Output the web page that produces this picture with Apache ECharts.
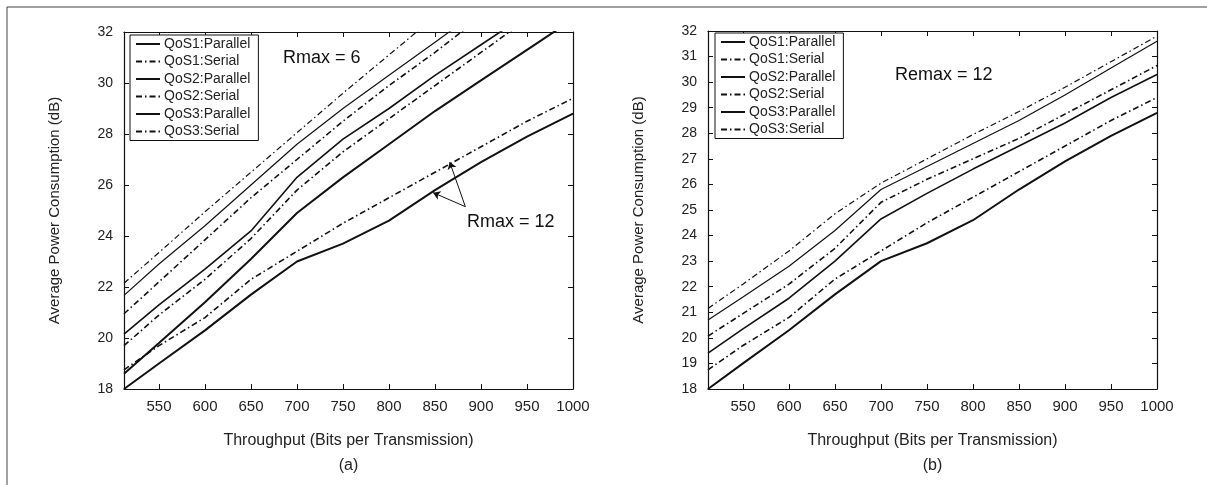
<!DOCTYPE html>
<html>
<head>
  <meta charset="utf-8">
  <title>Average Power Consumption</title>
  <script src="https://cdn.jsdelivr.net/npm/echarts@6/dist/echarts.min.js"></script>
  <style>
    html, body { margin: 0; padding: 0; background: #fff; }
    #chart { width: 1207px; height: 485px; }
  </style>
</head>
<body>
<div id="chart"></div>
<script>
  // throughput points (bits per transmission)
  var throughput = [512, 550, 600, 650, 700, 750, 800, 850, 900, 950, 1000];
  var xTicks = [550, 600, 650, 700, 750, 800, 850, 900, 950, 1000];

  // panel (a), Rmax = 6
  var a_qos1Par = [21.67, 22.9, 24.4, 26.0, 27.6, 29.0, 30.3, 31.6, 32.9, 34.2, 35.5];
  var a_qos1Ser = [22.15, 23.35, 24.95, 26.5, 28.05, 29.6, 31.1, 32.6, 34.1, 35.5, 37.0];
  var a_qos2Par = [20.15, 21.3, 22.7, 24.2, 26.3, 27.8, 29.0, 30.3, 31.5, 32.7, 33.9];
  var a_qos2Ser = [20.95, 22.2, 23.85, 25.5, 27.0, 28.5, 29.9, 31.2, 32.6, 34.0, 35.4];
  var a_qos3Par = [18.6, 19.8, 21.4, 23.1, 24.9, 26.3, 27.6, 28.9, 30.1, 31.3, 32.5];
  var a_qos3Ser = [19.7, 20.9, 22.3, 23.9, 25.8, 27.3, 28.6, 29.9, 31.2, 32.5, 33.8];

  // panel (b), Rmax = 12 (its QoS3 curves are also the Rmax = 12 pair in (a))
  var b_qos1Par = [20.7, 21.6, 22.8, 24.2, 25.8, 26.7, 27.6, 28.5, 29.5, 30.55, 31.6];
  var b_qos1Ser = [21.15, 22.1, 23.4, 24.85, 26.05, 27.0, 27.95, 28.85, 29.8, 30.8, 31.8];
  var b_qos2Par = [19.4, 20.35, 21.55, 23.0, 24.65, 25.65, 26.6, 27.5, 28.4, 29.4, 30.3];
  var b_qos2Ser = [20.07, 20.95, 22.1, 23.5, 25.3, 26.2, 27.0, 27.8, 28.75, 29.7, 30.65];
  var b_qos3Par = [18.0, 19.0, 20.3, 21.7, 23.0, 23.7, 24.6, 25.8, 26.9, 27.9, 28.8];
  var b_qos3Ser = [18.75, 19.7, 20.8, 22.3, 23.4, 24.5, 25.5, 26.5, 27.5, 28.5, 29.4];

  var legendNames = ['QoS1:Parallel', 'QoS1:Serial', 'QoS2:Parallel', 'QoS2:Serial', 'QoS3:Parallel', 'QoS3:Serial'];

  function pairs(vals) {
    return throughput.map(function (t, i) { return [t, vals[i]]; });
  }

  var FONT = 'Liberation Sans, Arial, sans-serif';
  var dashDot = [6, 3, 1.5, 3];

  var styles = {
    'QoS1:Parallel': { type: 'solid', width: 1.2 },
    'QoS1:Serial': { type: dashDot, width: 1.2 },
    'QoS2:Parallel': { type: 'solid', width: 1.6 },
    'QoS2:Serial': { type: dashDot, width: 1.6 },
    'QoS3:Parallel': { type: 'solid', width: 2 },
    'QoS3:Serial': { type: dashDot, width: 1.6 }
  };

  function line(name, vals, idx, extra) {
    var st = styles[name.split(' ')[0]];
    var s = {
      name: name,
      type: 'line',
      xAxisIndex: idx,
      yAxisIndex: idx,
      data: pairs(vals),
      showSymbol: false,
      symbol: 'none',
      color: '#111',
      animation: false,
      clip: true,
      lineStyle: { color: '#111', type: st.type, width: st.width }
    };
    if (extra) { for (var k in extra) s[k] = extra[k]; }
    return s;
  }

  function xAx(gi, tag) {
    return [{
      type: 'value', gridIndex: gi, min: 512, max: 1000,
      name: 'Throughput (Bits per Transmission)\n' + tag,
      nameLocation: 'middle', nameGap: 39,
      nameTextStyle: { fontFamily: FONT, fontSize: 16, color: '#222', lineHeight: 25 },
      axisLine: { lineStyle: { color: '#111', width: 1.2 } },
      axisTick: { inside: true, length: 5, customValues: xTicks, lineStyle: { color: '#111' } },
      axisLabel: {
        customValues: xTicks, fontFamily: FONT, fontSize: 15, color: '#222', margin: 10,
        formatter: function (v) { return String(v); }
      },
      splitLine: { show: false }
    }, {
      type: 'value', gridIndex: gi, position: 'top', min: 512, max: 1000,
      axisLine: { lineStyle: { color: '#111', width: 1.2 } },
      axisTick: { inside: true, length: 5, customValues: xTicks, lineStyle: { color: '#111' } },
      axisLabel: { show: false },
      splitLine: { show: false }
    }];
  }

  function yAx(gi, step) {
    return [{
      type: 'value', gridIndex: gi, min: 18, max: 32, interval: step,
      name: 'Average Power Consumption (dB)',
      nameLocation: 'middle', nameGap: 62,
      nameTextStyle: { fontFamily: FONT, fontSize: 15, color: '#222' },
      axisLine: { show: true, lineStyle: { color: '#111', width: 1.2 } },
      axisTick: { show: true, inside: true, length: 5, lineStyle: { color: '#111' } },
      axisLabel: { fontFamily: FONT, fontSize: 14, color: '#222', margin: 11 },
      splitLine: { show: false }
    }, {
      type: 'value', gridIndex: gi, position: 'right', min: 18, max: 32, interval: step,
      axisLine: { show: true, lineStyle: { color: '#111', width: 1.2 } },
      axisTick: { show: true, inside: true, length: 5, lineStyle: { color: '#111' } },
      axisLabel: { show: false },
      splitLine: { show: false }
    }];
  }

  function legend(left, top) {
    return {
      orient: 'vertical', left: left, top: top,
      data: legendNames,
      itemWidth: 24, itemHeight: 12, itemGap: 3.5,
      padding: [2, 8, 2, 5],
      borderColor: '#111', borderWidth: 1, borderRadius: 0,
      backgroundColor: '#fff',
      selectedMode: false,
      itemStyle: { opacity: 0 },
      textStyle: { fontFamily: FONT, fontSize: 14, color: '#222', padding: [0, 0, 0, -1] }
    };
  }

  function label(text, x, y) {
    return {
      type: 'text', x: x, y: y, z: 10,
      style: { text: text, font: '18px ' + FONT, fill: '#111', verticalAlign: 'middle' }
    };
  }

  var chart = echarts.init(document.getElementById('chart'));

  chart.setOption({
    backgroundColor: '#fff',
    animation: false,
    grid: [
      { left: 124, right: 634, top: 32, bottom: 96 },
      { left: 708, right: 50, top: 31, bottom: 96 }
    ],
    xAxis: xAx(0, '(a)').concat(xAx(1, '(b)')),
    yAxis: yAx(0, 2).concat(yAx(1, 1)),
    legend: [legend(130, 35), legend(715, 33)],
    graphic: [
      { type: 'line', shape: { x1: 7, y1: 7, x2: 7, y2: 485 }, style: { stroke: '#444', lineWidth: 1 } },
      { type: 'line', shape: { x1: 7, y1: 7, x2: 1207, y2: 7 }, style: { stroke: '#444', lineWidth: 1 } },
      label('Rmax = 6', 283, 58),
      label('Rmax = 12', 467, 222),
      label('Remax = 12', 895, 75)
    ],
    series: [
      line('QoS1:Parallel', a_qos1Par, 0),
      line('QoS1:Serial', a_qos1Ser, 0),
      line('QoS2:Parallel', a_qos2Par, 0),
      line('QoS2:Serial', a_qos2Ser, 0),
      line('QoS3:Parallel', a_qos3Par, 0),
      line('QoS3:Serial', a_qos3Ser, 0),
      line('QoS3:Parallel (Rmax = 12)', b_qos3Par, 0),
      line('QoS3:Serial (Rmax = 12)', b_qos3Ser, 0, {
        markLine: {
          silent: true,
          symbol: ['none', 'arrow'],
          symbolSize: 7,
          label: { show: false },
          lineStyle: { color: '#111', type: 'solid', width: 1 },
          data: [
            [{ coord: [883, 25.15] }, { coord: [866, 26.9] }],
            [{ coord: [883, 25.15] }, { coord: [848, 25.7] }]
          ]
        }
      }),
      line('QoS1:Parallel', b_qos1Par, 2),
      line('QoS1:Serial', b_qos1Ser, 2),
      line('QoS2:Parallel', b_qos2Par, 2),
      line('QoS2:Serial', b_qos2Ser, 2),
      line('QoS3:Parallel', b_qos3Par, 2),
      line('QoS3:Serial', b_qos3Ser, 2)
    ]
  });
</script>
</body>
</html>
